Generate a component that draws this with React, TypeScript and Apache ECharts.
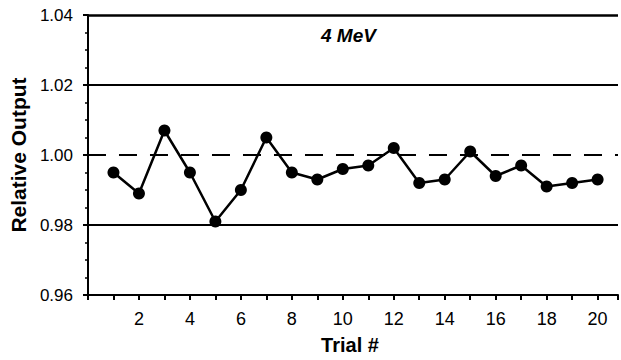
import React, { useEffect, useRef } from "react";
import * as echarts from "echarts";

const trials = [1, 2, 3, 4, 5, 6, 7, 8, 9, 10, 11, 12, 13, 14, 15, 16, 17, 18, 19, 20];
const output = [0.995, 0.989, 1.007, 0.995, 0.981, 0.99, 1.005, 0.995, 0.993, 0.996, 0.997, 1.002, 0.992, 0.993, 1.001, 0.994, 0.997, 0.991, 0.992, 0.993];
const solidLines = [1.02, 0.98];
const dashedLine = 1.0;
const topLine = 1.04;
const xTickLabels = [2, 4, 6, 8, 10, 12, 14, 16, 18, 20];

export default function App() {
  const ref = useRef<HTMLDivElement>(null);
  useEffect(() => {
    document.body.style.margin = "0";
    document.body.style.overflow = "hidden";
    const chart = echarts.init(ref.current!, null, { renderer: "svg" });
    const font = "'Liberation Sans', Arial, sans-serif";
    chart.setOption({
      animation: false,
      backgroundColor: "#fff",
      grid: { left: 87, top: 15, bottom: 61, right: 0, containLabel: false },
      xAxis: {
        type: "value",
        min: 0,
        max: 20.8,
        interval: 1,
        name: "Trial #",
        nameLocation: "middle",
        nameGap: 40,
        nameTextStyle: { fontFamily: font, fontWeight: "bold", fontSize: 20, color: "#000", padding: [0, 6, 0, 0] },
        axisLine: { lineStyle: { color: "#000", width: 2 } },
        axisTick: { length: 5, lineStyle: { color: "#000", width: 2 } },
        axisLabel: {
          margin: 15,
          fontFamily: font,
          fontSize: 18,
          color: "#000",
          formatter: (v: number) => (xTickLabels.includes(v) ? String(v) : ""),
        },
        splitLine: { show: false },
      },
      yAxis: {
        type: "value",
        min: 0.96,
        max: 1.04,
        interval: 0.02,
        name: "Relative Output",
        nameLocation: "middle",
        nameGap: 54,
        nameTextStyle: { fontFamily: font, fontWeight: "bold", fontSize: 21, color: "#000" },
        axisLine: { show: true, lineStyle: { color: "#000", width: 2 } },
        axisTick: { show: true, length: 5, lineStyle: { color: "#000", width: 2 } },
        minorTick: { show: true, splitNumber: 4, length: 3, lineStyle: { color: "#000", width: 1.5 } },
        axisLabel: {
          margin: 15,
          fontFamily: font,
          fontSize: 17,
          color: "#000",
          formatter: (v: number) => v.toFixed(2),
        },
        splitLine: { show: false },
      },
      graphic: [
        {
          type: "text",
          left: 321,
          top: 26,
          style: {
            text: "4 MeV",
            fontFamily: font,
            fontWeight: "bold",
            fontStyle: "italic",
            fontSize: 19,
            fill: "#000",
          },
        },
      ],
      series: [
        {
          type: "line",
          data: trials.map((t, i) => [t, output[i]]),
          symbol: "circle",
          symbolSize: 12,
          lineStyle: { color: "#000", width: 2.5 },
          itemStyle: { color: "#000" },
          z: 5,
          markLine: {
            silent: true,
            symbol: "none",
            label: { show: false },
            data: [
              { yAxis: topLine, lineStyle: { color: "#000", width: 2.5, type: "solid" } },
              ...solidLines.map((v) => ({ yAxis: v, lineStyle: { color: "#000", width: 2.2, type: "solid" } })),
              { yAxis: dashedLine, lineStyle: { color: "#000", width: 2.2, type: [18, 13] } },
            ],
          },
        },
      ],
    });
    return () => chart.dispose();
  }, []);
  return <div ref={ref} style={{ width: 621, height: 360, position: "fixed", left: 0, top: 0 }} />;
}
